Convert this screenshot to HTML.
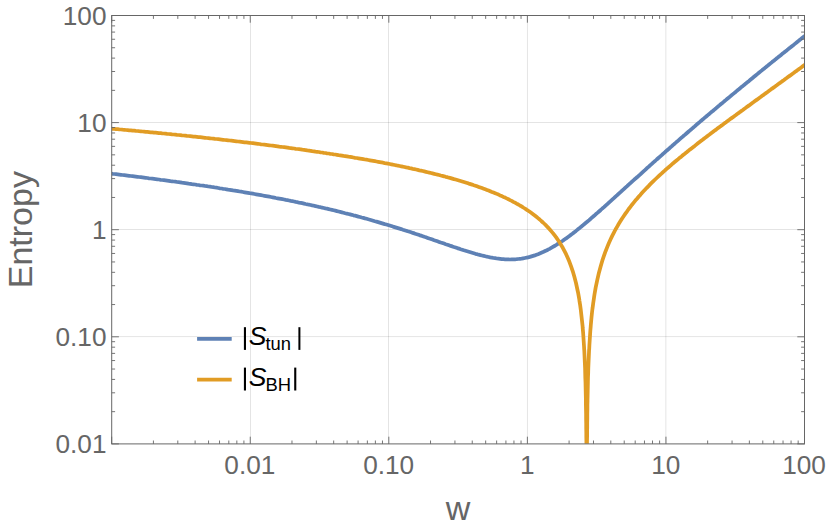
<!DOCTYPE html>
<html><head><meta charset="utf-8"><title>Entropy plot</title>
<style>
html,body{margin:0;padding:0;background:#fff;}
body{width:830px;height:528px;overflow:hidden;}
svg{display:block;}
text{font-family:"Liberation Sans",sans-serif;}
</style></head><body>
<svg width="830" height="528" viewBox="0 0 830 528">
<rect x="0" y="0" width="830" height="528" fill="#ffffff"/>
<defs><clipPath id="plot"><rect x="111.7" y="15.5" width="692.8" height="428.20"/></clipPath>
</defs>
<g stroke="#000" stroke-opacity="0.105" stroke-width="1" fill="none">
<line x1="250.5" y1="15.5" x2="250.5" y2="443.9"/>
<line x1="388.5" y1="15.5" x2="388.5" y2="443.9"/>
<line x1="527.45" y1="15.5" x2="527.45" y2="443.9"/>
<line x1="665.85" y1="15.5" x2="665.85" y2="443.9"/>
<line x1="111.7" y1="122.5" x2="804.5" y2="122.5"/>
<line x1="111.7" y1="229.5" x2="804.5" y2="229.5"/>
<line x1="111.7" y1="336.6" x2="804.5" y2="336.6"/>
</g>
<g clip-path="url(#plot)" fill="none" stroke-width="3.75" stroke-linejoin="round">
<path stroke="#5E81B5" d="M106.2,173.1L107.8,173.3L109.5,173.5L111.1,173.7L112.8,173.9L114.4,174.0L116.0,174.2L117.7,174.4L119.3,174.6L121.0,174.8L122.6,175.0L124.3,175.2L125.9,175.4L127.6,175.6L129.2,175.8L130.9,176.0L132.5,176.2L134.2,176.4L135.8,176.6L137.5,176.8L139.1,177.0L140.8,177.2L142.4,177.4L144.1,177.6L145.7,177.8L147.4,178.0L149.0,178.3L150.7,178.5L152.3,178.7L154.0,178.9L155.6,179.1L157.3,179.3L158.9,179.5L160.6,179.8L162.2,180.0L163.9,180.2L165.5,180.4L167.1,180.6L168.8,180.8L170.4,181.1L172.1,181.3L173.7,181.5L175.4,181.7L177.0,182.0L178.7,182.2L180.3,182.4L182.0,182.7L183.6,182.9L185.3,183.1L186.9,183.3L188.6,183.6L190.2,183.8L191.9,184.1L193.5,184.3L195.2,184.5L196.8,184.8L198.5,185.0L200.1,185.3L201.8,185.5L203.4,185.7L205.1,186.0L206.7,186.2L208.4,186.5L210.0,186.7L211.7,187.0L213.3,187.2L215.0,187.5L216.6,187.7L218.3,188.0L219.9,188.3L221.5,188.5L223.2,188.8L224.8,189.0L226.5,189.3L228.1,189.6L229.8,189.8L231.4,190.1L233.1,190.4L234.7,190.6L236.4,190.9L238.0,191.2L239.7,191.5L241.3,191.7L243.0,192.0L244.6,192.3L246.3,192.6L247.9,192.9L249.6,193.2L251.2,193.4L252.9,193.7L254.5,194.0L256.2,194.3L257.8,194.6L259.5,194.9L261.1,195.2L262.8,195.5L264.4,195.8L266.1,196.1L267.7,196.4L269.4,196.7L271.0,197.0L272.7,197.3L274.3,197.6L275.9,198.0L277.6,198.3L279.2,198.6L280.9,198.9L282.5,199.2L284.2,199.5L285.8,199.9L287.5,200.2L289.1,200.5L290.8,200.9L292.4,201.2L294.1,201.5L295.7,201.9L297.4,202.2L299.0,202.6L300.7,202.9L302.3,203.2L304.0,203.6L305.6,204.0L307.3,204.3L308.9,204.7L310.6,205.0L312.2,205.4L313.9,205.7L315.5,206.1L317.2,206.5L318.8,206.9L320.5,207.2L322.1,207.6L323.8,208.0L325.4,208.4L327.0,208.7L328.7,209.1L330.3,209.5L332.0,209.9L333.6,210.3L335.3,210.7L336.9,211.1L338.6,211.5L340.2,211.9L341.9,212.3L343.5,212.7L345.2,213.2L346.8,213.6L348.5,214.0L350.1,214.4L351.8,214.8L353.4,215.3L355.1,215.7L356.7,216.1L358.4,216.6L360.0,217.0L361.7,217.5L363.3,217.9L365.0,218.4L366.6,218.8L368.3,219.3L369.9,219.7L371.6,220.2L373.2,220.7L374.9,221.2L376.5,221.6L378.2,222.1L379.8,222.6L381.4,223.1L383.1,223.6L384.7,224.1L386.4,224.5L388.0,225.0L389.7,225.5L391.3,226.0L393.0,226.6L394.6,227.1L396.3,227.6L397.9,228.1L399.6,228.6L401.2,229.1L402.9,229.7L404.5,230.2L406.2,230.7L407.8,231.3L409.5,231.8L411.1,232.3L412.8,232.9L414.4,233.4L416.1,234.0L417.7,234.5L419.4,235.1L421.0,235.6L422.7,236.2L424.3,236.8L426.0,237.3L427.6,237.9L429.3,238.5L430.9,239.0L432.5,239.6L434.2,240.2L435.8,240.7L437.5,241.3L439.1,241.9L440.8,242.5L442.4,243.0L444.1,243.6L445.7,244.2L447.4,244.7L449.0,245.3L450.7,245.9L452.3,246.4L454.0,247.0L455.6,247.5L457.3,248.1L458.9,248.6L460.6,249.2L462.2,249.7L463.9,250.3L465.5,250.8L467.2,251.3L468.8,251.8L470.5,252.3L472.1,252.8L473.8,253.3L475.4,253.8L477.1,254.2L478.7,254.7L480.4,255.1L482.0,255.5L483.7,255.9L485.3,256.3L486.9,256.7L488.6,257.0L490.2,257.4L491.9,257.7L493.5,258.0L495.2,258.2L496.8,258.5L498.5,258.7L500.1,258.9L501.8,259.1L503.4,259.2L505.1,259.3L506.7,259.4L508.4,259.4L510.0,259.5L511.7,259.4L513.3,259.4L515.0,259.3L516.6,259.2L518.3,259.0L519.9,258.8L521.6,258.6L523.2,258.3L524.9,258.0L526.5,257.7L528.2,257.3L529.8,256.9L531.5,256.4L533.1,255.9L534.8,255.4L536.4,254.8L538.0,254.2L539.7,253.5L541.3,252.8L543.0,252.1L544.6,251.3L546.3,250.5L547.9,249.7L549.6,248.8L551.2,247.9L552.9,246.9L554.5,246.0L556.2,245.0L557.8,243.9L559.5,242.9L561.1,241.8L562.8,240.7L564.4,239.5L566.1,238.4L567.7,237.2L569.4,236.0L571.0,234.7L572.7,233.5L574.3,232.2L576.0,230.9L577.6,229.6L579.3,228.3L580.9,226.9L582.6,225.6L584.2,224.2L585.9,222.8L587.5,221.5L589.2,220.1L590.8,218.6L592.4,217.2L594.1,215.8L595.7,214.3L597.4,212.9L599.0,211.5L600.7,210.0L602.3,208.5L604.0,207.1L605.6,205.6L607.3,204.1L608.9,202.6L610.6,201.1L612.2,199.7L613.9,198.2L615.5,196.7L617.2,195.2L618.8,193.7L620.5,192.2L622.1,190.7L623.8,189.2L625.4,187.7L627.1,186.2L628.7,184.7L630.4,183.2L632.0,181.7L633.7,180.2L635.3,178.7L637.0,177.3L638.6,175.8L640.3,174.3L641.9,172.8L643.5,171.3L645.2,169.8L646.8,168.3L648.5,166.9L650.1,165.4L651.8,163.9L653.4,162.4L655.1,161.0L656.7,159.5L658.4,158.0L660.0,156.6L661.7,155.1L663.3,153.6L665.0,152.2L666.6,150.7L668.3,149.3L669.9,147.8L671.6,146.4L673.2,144.9L674.9,143.5L676.5,142.0L678.2,140.6L679.8,139.2L681.5,137.7L683.1,136.3L684.8,134.9L686.4,133.5L688.1,132.0L689.7,130.6L691.4,129.2L693.0,127.8L694.7,126.4L696.3,124.9L697.9,123.5L699.6,122.1L701.2,120.7L702.9,119.3L704.5,117.9L706.2,116.5L707.8,115.1L709.5,113.7L711.1,112.3L712.8,111.0L714.4,109.6L716.1,108.2L717.7,106.8L719.4,105.4L721.0,104.0L722.7,102.7L724.3,101.3L726.0,99.9L727.6,98.5L729.3,97.2L730.9,95.8L732.6,94.4L734.2,93.1L735.9,91.7L737.5,90.3L739.2,89.0L740.8,87.6L742.5,86.3L744.1,84.9L745.8,83.6L747.4,82.2L749.1,80.9L750.7,79.5L752.3,78.2L754.0,76.8L755.6,75.5L757.3,74.1L758.9,72.8L760.6,71.4L762.2,70.1L763.9,68.8L765.5,67.4L767.2,66.1L768.8,64.8L770.5,63.4L772.1,62.1L773.8,60.8L775.4,59.4L777.1,58.1L778.7,56.8L780.4,55.5L782.0,54.1L783.7,52.8L785.3,51.5L787.0,50.2L788.6,48.8L790.3,47.5L791.9,46.2L793.6,44.9L795.2,43.6L796.9,42.2L798.5,40.9L800.2,39.6L801.8,38.3L803.4,37.0L805.1,35.7L806.7,34.4L808.4,33.1L810.0,31.7"/>
<path stroke="#E19C24" d="M106.2,128.2L107.8,128.3L109.5,128.5L111.1,128.6L112.8,128.8L114.4,128.9L116.0,129.1L117.7,129.2L119.3,129.4L121.0,129.5L122.6,129.7L124.3,129.8L125.9,130.0L127.6,130.1L129.2,130.3L130.9,130.4L132.5,130.6L134.2,130.7L135.8,130.9L137.5,131.0L139.1,131.2L140.8,131.3L142.4,131.5L144.1,131.6L145.7,131.8L147.4,131.9L149.0,132.1L150.7,132.3L152.3,132.4L154.0,132.6L155.6,132.7L157.3,132.9L158.9,133.1L160.6,133.2L162.2,133.4L163.9,133.5L165.5,133.7L167.1,133.9L168.8,134.0L170.4,134.2L172.1,134.4L173.7,134.5L175.4,134.7L177.0,134.9L178.7,135.0L180.3,135.2L182.0,135.4L183.6,135.5L185.3,135.7L186.9,135.9L188.6,136.0L190.2,136.2L191.9,136.4L193.5,136.6L195.2,136.7L196.8,136.9L198.5,137.1L200.1,137.2L201.8,137.4L203.4,137.6L205.1,137.8L206.7,138.0L208.4,138.1L210.0,138.3L211.7,138.5L213.3,138.7L215.0,138.9L216.6,139.0L218.3,139.2L219.9,139.4L221.5,139.6L223.2,139.8L224.8,140.0L226.5,140.1L228.1,140.3L229.8,140.5L231.4,140.7L233.1,140.9L234.7,141.1L236.4,141.3L238.0,141.5L239.7,141.7L241.3,141.9L243.0,142.1L244.6,142.3L246.3,142.4L247.9,142.6L249.6,142.8L251.2,143.0L252.9,143.2L254.5,143.4L256.2,143.6L257.8,143.8L259.5,144.0L261.1,144.3L262.8,144.5L264.4,144.7L266.1,144.9L267.7,145.1L269.4,145.3L271.0,145.5L272.7,145.7L274.3,145.9L275.9,146.1L277.6,146.3L279.2,146.6L280.9,146.8L282.5,147.0L284.2,147.2L285.8,147.4L287.5,147.6L289.1,147.9L290.8,148.1L292.4,148.3L294.1,148.5L295.7,148.8L297.4,149.0L299.0,149.2L300.7,149.4L302.3,149.7L304.0,149.9L305.6,150.1L307.3,150.4L308.9,150.6L310.6,150.8L312.2,151.1L313.9,151.3L315.5,151.6L317.2,151.8L318.8,152.0L320.5,152.3L322.1,152.5L323.8,152.8L325.4,153.0L327.0,153.3L328.7,153.5L330.3,153.8L332.0,154.0L333.6,154.3L335.3,154.5L336.9,154.8L338.6,155.1L340.2,155.3L341.9,155.6L343.5,155.9L345.2,156.1L346.8,156.4L348.5,156.7L350.1,156.9L351.8,157.2L353.4,157.5L355.1,157.8L356.7,158.0L358.4,158.3L360.0,158.6L361.7,158.9L363.3,159.2L365.0,159.5L366.6,159.7L368.3,160.0L369.9,160.3L371.6,160.6L373.2,160.9L374.9,161.2L376.5,161.5L378.2,161.8L379.8,162.1L381.4,162.4L383.1,162.7L384.7,163.1L386.4,163.4L388.0,163.7L389.7,164.0L391.3,164.3L393.0,164.7L394.6,165.0L396.3,165.3L397.9,165.7L399.6,166.0L401.2,166.3L402.9,166.7L404.5,167.0L406.2,167.4L407.8,167.7L409.5,168.1L411.1,168.4L412.8,168.8L414.4,169.1L416.1,169.5L417.7,169.9L419.4,170.3L421.0,170.6L422.7,171.0L424.3,171.4L426.0,171.8L427.6,172.2L429.3,172.6L430.9,173.0L432.5,173.4L434.2,173.8L435.8,174.2L437.5,174.6L439.1,175.0L440.8,175.5L442.4,175.9L444.1,176.3L445.7,176.8L447.4,177.2L449.0,177.7L450.7,178.1L452.3,178.6L454.0,179.1L455.6,179.5L457.3,180.0L458.9,180.5L460.6,181.0L462.2,181.5L463.9,182.0L465.5,182.5L467.2,183.0L468.8,183.6L470.5,184.1L472.1,184.6L473.8,185.2L475.4,185.7L477.1,186.3L478.7,186.9L480.4,187.5L482.0,188.1L483.7,188.7L485.3,189.3L486.9,189.9L488.6,190.5L490.2,191.2L491.9,191.9L493.5,192.5L495.2,193.2L496.8,193.9L498.5,194.6L500.1,195.4L501.8,196.1L503.4,196.9L505.1,197.6L506.7,198.4L508.4,199.2L510.0,200.1L511.7,200.9L513.3,201.8L515.0,202.7L516.6,203.6L518.3,204.5L519.9,205.5L521.6,206.4L523.2,207.5L524.9,208.5L526.5,209.6L528.2,210.7L529.8,211.8L531.5,213.0L533.1,214.2L534.8,215.5L536.4,216.8L538.0,218.1L539.7,219.5L541.3,221.0L543.0,222.5L544.6,224.0L546.3,225.7L547.9,227.4L549.6,229.2L551.2,231.1L552.9,233.1L554.5,235.2L556.2,237.4L557.8,239.8L559.5,242.3L561.1,244.9L562.8,247.8L564.4,250.9L566.1,254.2L567.7,257.8L569.4,261.8L571.0,266.2L572.7,271.1L574.3,276.6L576.0,283.0L577.6,290.5L578.0,292.2L578.8,296.6L579.3,299.5L579.5,301.1L580.2,305.5L580.8,310.0L580.9,310.9L581.3,314.5L581.8,319.0L582.3,323.5L582.6,326.2L582.7,328.0L583.1,332.5L583.4,337.0L583.7,341.5L584.0,346.0L584.2,349.6L584.3,350.6L584.5,355.1L584.7,359.6L584.9,364.2L585.1,368.7L585.2,373.3L585.3,377.8L585.5,382.4L585.6,386.9L585.7,391.5L585.8,396.0L585.9,399.7L585.9,400.6L585.9,405.2L586.0,409.7L586.1,414.3L586.1,418.8L586.2,423.4L586.2,428.0L586.3,432.5L586.3,437.1L586.4,441.7L586.4,446.2L586.4,450.8L586.4,455.4L586.5,459.9L586.5,464.5L586.5,469.1L586.5,473.6L586.5,478.2L586.6,482.8L586.6,487.4L586.6,491.9L586.6,496.5L586.6,501.1L586.6,505.6L586.6,510.2L586.6,514.8L586.6,519.4L586.6,523.9L586.6,528.5L586.6,533.1L586.7,537.6L586.7,542.2L586.7,546.8L586.7,551.4L586.7,555.9L586.7,560.5L586.7,565.1L586.7,569.6L586.7,574.2L586.7,578.8L586.7,583.4L586.7,587.9L586.7,592.5L586.7,597.1L586.7,601.7L586.7,606.2L586.7,607.0L586.7,607.0L586.7,607.0L586.7,607.0L586.7,607.0L586.7,607.0L586.7,607.0L586.7,607.0L586.7,607.0L586.7,607.0L586.7,607.0L586.7,607.0L586.7,607.0L586.7,607.0L586.7,607.0L586.7,607.0L586.7,607.0L586.7,607.0L586.7,607.0L586.7,607.0L586.7,607.0L586.7,607.0L586.7,607.0L586.7,607.0L586.7,607.0L586.7,607.0L586.7,607.0L586.7,607.0L586.7,607.0L586.7,607.0L586.7,607.0L586.7,607.0L586.7,607.0L586.7,607.0L586.7,607.0L586.7,607.0L586.7,607.0L586.7,607.0L586.7,607.0L586.7,607.0L586.7,607.0L586.7,606.2L586.7,601.7L586.7,597.1L586.7,592.5L586.7,587.9L586.7,583.4L586.7,578.8L586.7,574.2L586.7,569.6L586.7,565.1L586.7,560.5L586.7,555.9L586.7,551.3L586.7,546.8L586.7,542.2L586.7,537.6L586.7,533.1L586.7,528.5L586.8,523.9L586.8,519.3L586.8,514.8L586.8,510.2L586.8,505.6L586.8,501.0L586.8,496.5L586.8,491.9L586.8,487.3L586.8,482.7L586.9,478.2L586.9,473.6L586.9,469.0L586.9,464.4L586.9,459.9L586.9,455.3L587.0,450.7L587.0,446.1L587.0,441.5L587.1,437.0L587.1,432.4L587.2,427.8L587.2,423.2L587.3,418.6L587.3,414.1L587.4,409.5L587.4,404.9L587.5,401.4L587.5,400.3L587.6,395.7L587.7,391.1L587.8,386.5L587.9,381.9L588.0,377.3L588.2,372.7L588.3,368.1L588.5,363.5L588.7,358.9L588.9,354.3L589.1,349.7L589.2,349.3L589.4,345.1L589.7,340.5L590.0,335.8L590.3,331.2L590.7,326.6L590.8,325.1L591.1,321.9L591.5,317.3L592.0,312.6L592.4,309.1L592.6,307.9L593.2,303.2L593.9,298.5L594.1,297.1L594.6,293.8L595.4,289.1L595.7,287.4L597.4,279.3L599.0,272.4L600.7,266.2L602.3,260.7L604.0,255.7L605.6,251.2L607.3,246.9L608.9,243.0L610.6,239.3L612.2,235.9L613.9,232.6L615.5,229.5L617.2,226.6L618.8,223.8L620.5,221.1L622.1,218.5L623.8,216.0L625.4,213.6L627.1,211.3L628.7,209.0L630.4,206.8L632.0,204.7L633.7,202.6L635.3,200.6L637.0,198.7L638.6,196.8L640.3,194.9L641.9,193.0L643.5,191.3L645.2,189.5L646.8,187.8L648.5,186.1L650.1,184.4L651.8,182.7L653.4,181.1L655.1,179.5L656.7,178.0L658.4,176.4L660.0,174.9L661.7,173.4L663.3,171.9L665.0,170.4L666.6,168.9L668.3,167.5L669.9,166.1L671.6,164.6L673.2,163.2L674.9,161.8L676.5,160.5L678.2,159.1L679.8,157.7L681.5,156.4L683.1,155.0L684.8,153.7L686.4,152.4L688.1,151.1L689.7,149.7L691.4,148.4L693.0,147.2L694.7,145.9L696.3,144.6L697.9,143.3L699.6,142.0L701.2,140.8L702.9,139.5L704.5,138.2L706.2,137.0L707.8,135.7L709.5,134.5L711.1,133.3L712.8,132.0L714.4,130.8L716.1,129.6L717.7,128.3L719.4,127.1L721.0,125.9L722.7,124.7L724.3,123.4L726.0,122.2L727.6,121.0L729.3,119.8L730.9,118.6L732.6,117.4L734.2,116.2L735.9,115.0L737.5,113.8L739.2,112.6L740.8,111.4L742.5,110.2L744.1,109.0L745.8,107.8L747.4,106.6L749.1,105.4L750.7,104.2L752.3,103.0L754.0,101.8L755.6,100.6L757.3,99.4L758.9,98.2L760.6,97.0L762.2,95.8L763.9,94.6L765.5,93.4L767.2,92.2L768.8,91.0L770.5,89.8L772.1,88.6L773.8,87.4L775.4,86.2L777.1,85.0L778.7,83.8L780.4,82.6L782.0,81.4L783.7,80.2L785.3,79.0L787.0,77.8L788.6,76.6L790.3,75.4L791.9,74.2L793.6,73.0L795.2,71.8L796.9,70.6L798.5,69.4L800.2,68.2L801.8,67.0L803.4,65.7L805.1,64.5L806.7,63.3L808.4,62.1L810.0,60.9"/>
</g>
<rect x="111.7" y="15.5" width="692.80" height="428.40" fill="none" stroke="#666666" stroke-width="1.0"/>
<path d="M111.70,443.9v-7.2M111.70,15.5v7.2M153.41,443.9v-3.4M153.41,15.5v3.4M177.81,443.9v-3.4M177.81,15.5v3.4M195.12,443.9v-3.4M195.12,15.5v3.4M208.55,443.9v-3.4M208.55,15.5v3.4M219.52,443.9v-3.4M219.52,15.5v3.4M228.80,443.9v-3.4M228.80,15.5v3.4M236.83,443.9v-3.4M236.83,15.5v3.4M243.92,443.9v-3.4M243.92,15.5v3.4M250.26,443.9v-7.2M250.26,15.5v7.2M291.97,443.9v-3.4M291.97,15.5v3.4M316.37,443.9v-3.4M316.37,15.5v3.4M333.68,443.9v-3.4M333.68,15.5v3.4M347.11,443.9v-3.4M347.11,15.5v3.4M358.08,443.9v-3.4M358.08,15.5v3.4M367.36,443.9v-3.4M367.36,15.5v3.4M375.39,443.9v-3.4M375.39,15.5v3.4M382.48,443.9v-3.4M382.48,15.5v3.4M388.82,443.9v-7.2M388.82,15.5v7.2M430.53,443.9v-3.4M430.53,15.5v3.4M454.93,443.9v-3.4M454.93,15.5v3.4M472.24,443.9v-3.4M472.24,15.5v3.4M485.67,443.9v-3.4M485.67,15.5v3.4M496.64,443.9v-3.4M496.64,15.5v3.4M505.92,443.9v-3.4M505.92,15.5v3.4M513.95,443.9v-3.4M513.95,15.5v3.4M521.04,443.9v-3.4M521.04,15.5v3.4M527.38,443.9v-7.2M527.38,15.5v7.2M569.09,443.9v-3.4M569.09,15.5v3.4M593.49,443.9v-3.4M593.49,15.5v3.4M610.80,443.9v-3.4M610.80,15.5v3.4M624.23,443.9v-3.4M624.23,15.5v3.4M635.20,443.9v-3.4M635.20,15.5v3.4M644.48,443.9v-3.4M644.48,15.5v3.4M652.51,443.9v-3.4M652.51,15.5v3.4M659.60,443.9v-3.4M659.60,15.5v3.4M665.94,443.9v-7.2M665.94,15.5v7.2M707.65,443.9v-3.4M707.65,15.5v3.4M732.05,443.9v-3.4M732.05,15.5v3.4M749.36,443.9v-3.4M749.36,15.5v3.4M762.79,443.9v-3.4M762.79,15.5v3.4M773.76,443.9v-3.4M773.76,15.5v3.4M783.04,443.9v-3.4M783.04,15.5v3.4M791.07,443.9v-3.4M791.07,15.5v3.4M798.16,443.9v-3.4M798.16,15.5v3.4M804.50,443.9v-7.2M804.50,15.5v7.2M111.7,15.50h7.2M804.5,15.50h-7.2M111.7,90.36h3.4M804.5,90.36h-3.4M111.7,71.50h3.4M804.5,71.50h-3.4M111.7,58.12h3.4M804.5,58.12h-3.4M111.7,47.74h3.4M804.5,47.74h-3.4M111.7,39.26h3.4M804.5,39.26h-3.4M111.7,32.09h3.4M804.5,32.09h-3.4M111.7,25.88h3.4M804.5,25.88h-3.4M111.7,20.40h3.4M804.5,20.40h-3.4M111.7,122.60h7.2M804.5,122.60h-7.2M111.7,197.46h3.4M804.5,197.46h-3.4M111.7,178.60h3.4M804.5,178.60h-3.4M111.7,165.22h3.4M804.5,165.22h-3.4M111.7,154.84h3.4M804.5,154.84h-3.4M111.7,146.36h3.4M804.5,146.36h-3.4M111.7,139.19h3.4M804.5,139.19h-3.4M111.7,132.98h3.4M804.5,132.98h-3.4M111.7,127.50h3.4M804.5,127.50h-3.4M111.7,229.70h7.2M804.5,229.70h-7.2M111.7,304.56h3.4M804.5,304.56h-3.4M111.7,285.70h3.4M804.5,285.70h-3.4M111.7,272.32h3.4M804.5,272.32h-3.4M111.7,261.94h3.4M804.5,261.94h-3.4M111.7,253.46h3.4M804.5,253.46h-3.4M111.7,246.29h3.4M804.5,246.29h-3.4M111.7,240.08h3.4M804.5,240.08h-3.4M111.7,234.60h3.4M804.5,234.60h-3.4M111.7,336.80h7.2M804.5,336.80h-7.2M111.7,411.66h3.4M804.5,411.66h-3.4M111.7,392.80h3.4M804.5,392.80h-3.4M111.7,379.42h3.4M804.5,379.42h-3.4M111.7,369.04h3.4M804.5,369.04h-3.4M111.7,360.56h3.4M804.5,360.56h-3.4M111.7,353.39h3.4M804.5,353.39h-3.4M111.7,347.18h3.4M804.5,347.18h-3.4M111.7,341.70h3.4M804.5,341.70h-3.4M111.7,443.90h7.2M804.5,443.90h-7.2" stroke="#666666" stroke-width="0.9" fill="none"/>
<g fill="#666666" font-size="26.2" text-anchor="end">
<text x="106.5" y="24.8">100</text>
<text x="106.5" y="131.9">10</text>
<text x="106.5" y="239.0">1</text>
<text x="106.5" y="346.1">0.10</text>
<text x="106.5" y="453.2">0.01</text>
</g>
<g fill="#666666" font-size="26.2" text-anchor="middle">
<text x="249.8" y="473.55">0.01</text>
<text x="388.7" y="473.55">0.10</text>
<text x="527.2" y="473.55">1</text>
<text x="665.7" y="473.55">10</text>
<text x="804.1" y="473.55">100</text>
</g>
<text x="458" y="520" font-size="34" fill="#666666" text-anchor="middle">w</text>
<text x="31.6" y="229.7" font-size="34" fill="#666666" text-anchor="middle" transform="rotate(-90 31.6 229.7)">Entropy</text>
<line x1="197.1" y1="338.95" x2="231.7" y2="338.95" stroke="#5E81B5" stroke-width="3.7"/>
<line x1="197.1" y1="379.55" x2="231.7" y2="379.55" stroke="#E19C24" stroke-width="3.7"/>
<text x="248.7" y="345.3" font-size="26.5" font-style="italic" fill="#000">S</text>
<text x="265.5" y="350.1" font-size="18.4" fill="#000">tun</text>
<text x="248.7" y="385.7" font-size="26.5" font-style="italic" fill="#000">S</text>
<text x="265.5" y="390.75" font-size="18.4" fill="#000">BH</text>
<rect x="243.9" y="327.2" width="2.10" height="22.70" fill="#000"/>
<rect x="298.4" y="327.2" width="2.00" height="22.70" fill="#000"/>
<rect x="243.9" y="367.6" width="2.10" height="22.90" fill="#000"/>
<rect x="294.2" y="367.6" width="2.10" height="22.90" fill="#000"/>
</svg></body></html>
